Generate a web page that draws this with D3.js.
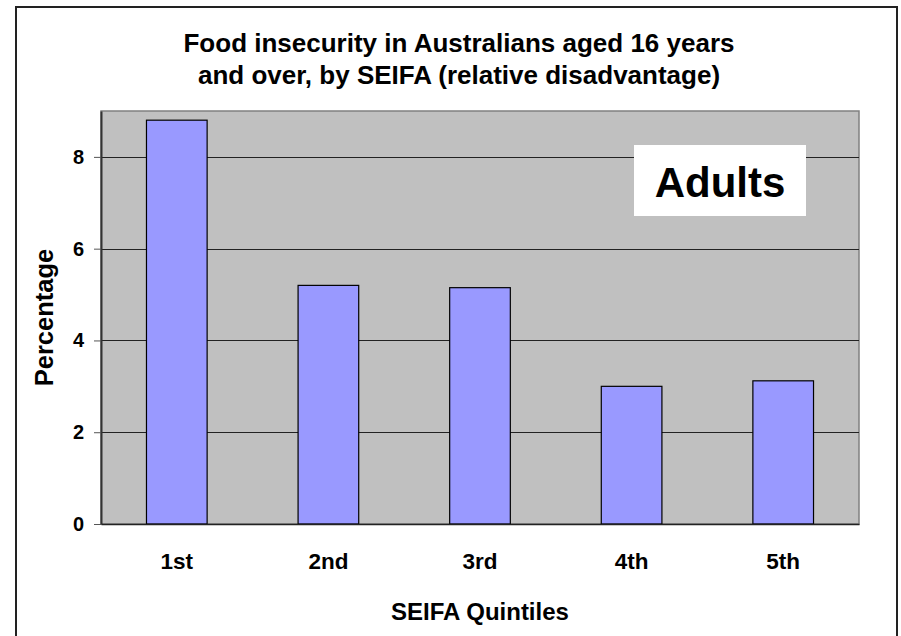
<!DOCTYPE html>
<html>
<head>
<meta charset="utf-8">
<script src="https://cdn.jsdelivr.net/npm/d3@7"></script>
<style>
    body { margin: 0; background: #fff; }
    svg { display: block; font-family: Arial, "Liberation Sans", sans-serif; font-weight: bold; }
</style>
</head>
<body>
<div id="container"></div>
<script>
// Data
const quintiles = ["1st", "2nd", "3rd", "4th", "5th"];
const percentages = [8.8, 5.2, 5.15, 3.0, 3.12];
const yTicks = [0, 2, 4, 6, 8];
const titleLines = ["Food insecurity in Australians aged 16 years", "and over, by SEIFA (relative disadvantage)"];

const width = 901;
const height = 636;
const marginLeft = 101;
const marginRight = 42;
const marginTop = 111;
const marginBottom = 112;

const svg = d3.select("#container").append("svg")
    .attr("width", width)
    .attr("height", height);

svg.append("rect")
    .attr("width", width).attr("height", height)
    .attr("fill", "#fff");

// outer chart border (runs off the bottom)
svg.append("rect")
    .attr("x", 16).attr("y", 7)
    .attr("width", 881).attr("height", 660)
    .attr("fill", "none")
    .attr("stroke", "#222")
    .attr("stroke-width", 2);

const x = d3.scaleBand()
    .domain(quintiles)
    .range([marginLeft, width - marginRight])
    .padding(0);

const y = d3.scaleLinear()
    .domain([0, 9])
    .range([height - marginBottom, marginTop]);

// plot area
svg.append("rect")
    .attr("x", marginLeft).attr("y", marginTop)
    .attr("width", width - marginRight - marginLeft)
    .attr("height", height - marginBottom - marginTop)
    .attr("fill", "#c0c0c0")
    .attr("stroke", "#808080")
    .attr("stroke-width", 1.5);

// gridlines
svg.append("g")
    .selectAll("line")
    .data(yTicks.filter(d => d > 0))
    .join("line")
    .attr("x1", marginLeft).attr("x2", width - marginRight)
    .attr("y1", d => Math.round(y(d)) + 0.5)
    .attr("y2", d => Math.round(y(d)) + 0.5)
    .attr("stroke", "#222")
    .attr("stroke-width", 1);

// bars
svg.append("g")
    .selectAll("rect")
    .data(percentages)
    .join("rect")
    .attr("x", (d, i) => x(quintiles[i]) + x.bandwidth() * 0.3)
    .attr("y", d => y(d))
    .attr("width", x.bandwidth() * 0.4)
    .attr("height", d => y(0) - y(d))
    .attr("fill", "#9999ff")
    .attr("stroke", "#000")
    .attr("stroke-width", 1.2);

// y axis
const yAxis = svg.append("g")
    .attr("transform", `translate(${marginLeft},0)`)
    .call(d3.axisLeft(y).tickValues(yTicks).tickSize(7).tickSizeOuter(0).tickPadding(10).tickFormat(d3.format("d")));
yAxis.select(".domain").attr("stroke", "#333").attr("stroke-width", 2);
yAxis.selectAll(".tick line").attr("stroke", "#555");
yAxis.selectAll("text")
    .attr("font-size", 20)
    .attr("font-family", "Arial, 'Liberation Sans', sans-serif")
    .attr("font-weight", "bold")
    .attr("fill", "#000");

// x axis
const xAxis = svg.append("g")
    .attr("transform", `translate(0,${height - marginBottom})`)
    .call(d3.axisBottom(x).tickSize(0).tickSizeOuter(0).tickPadding(29));
xAxis.select(".domain").attr("stroke", "#222").attr("stroke-width", 1.5);
xAxis.selectAll("text")
    .attr("font-size", 22.5)
    .attr("font-family", "Arial, 'Liberation Sans', sans-serif")
    .attr("font-weight", "bold")
    .attr("fill", "#000");

// title
svg.append("g")
    .selectAll("text")
    .data(titleLines)
    .join("text")
    .attr("x", 459)
    .attr("y", (d, i) => 52 + i * 32)
    .attr("text-anchor", "middle")
    .attr("font-size", 26)
    .text(d => d);

// axis titles
svg.append("text")
    .attr("x", (marginLeft + width - marginRight) / 2)
    .attr("y", 620)
    .attr("text-anchor", "middle")
    .attr("font-size", 24)
    .text("SEIFA Quintiles");

svg.append("text")
    .attr("transform", `translate(53,${(marginTop + height - marginBottom) / 2}) rotate(-90)`)
    .attr("text-anchor", "middle")
    .attr("font-size", 25.5)
    .text("Percentage");

// "Adults" label box
svg.append("rect")
    .attr("x", 634).attr("y", 145)
    .attr("width", 172).attr("height", 71)
    .attr("fill", "#fff");
svg.append("text")
    .attr("x", 720).attr("y", 197)
    .attr("text-anchor", "middle")
    .attr("font-size", 42)
    .text("Adults");
</script>
</body>
</html>
